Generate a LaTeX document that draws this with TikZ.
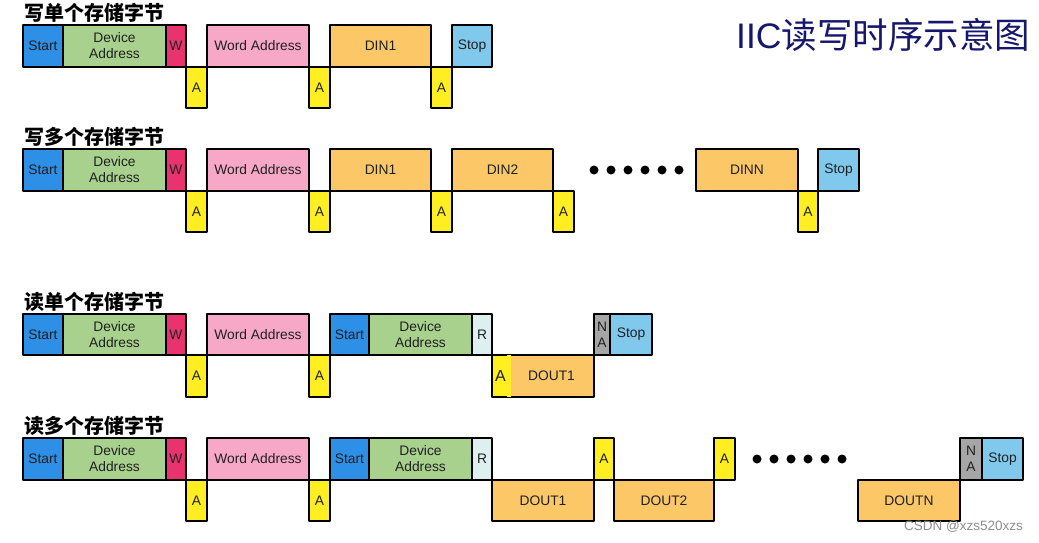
\documentclass[tikz,border=0pt]{standalone}
\usepackage{fontspec}
\setmainfont{Liberation Sans}
\newfontfamily\cjk{Noto Sans CJK SC}
\definecolor{cStart}{HTML}{2E8FE6}
\definecolor{cDev}{HTML}{A9D18E}
\definecolor{cW}{HTML}{E8336E}
\definecolor{cWA}{HTML}{F7A8C6}
\definecolor{cDin}{HTML}{FCC766}
\definecolor{cStop}{HTML}{80C8EC}
\definecolor{cA}{HTML}{FFEE22}
\definecolor{cR}{HTML}{DDEFEF}
\definecolor{cNA}{HTML}{A6A6A6}
\definecolor{cTitle}{HTML}{16166E}
\definecolor{cTxt}{HTML}{202020}
\newcommand\mybox[7]{\node[cell,fill=#6,minimum width={#3-#2},minimum height={#5-#4}] (#1) at ({(#2+#3)/2},{(#4+#5)/2}) {#7};}
\begin{document}
\begin{tikzpicture}[x=1pt,y=-1pt,
  cell/.style={draw=black,line width=2.8pt,line join=round,inner sep=0pt,outer sep=0pt,align=center,
    text=cTxt,font=\fontsize{13.8}{16}\selectfont},
  rowtitle/.style={anchor=west,inner sep=0pt,font=\cjk\bfseries\fontsize{20}{21}\selectfont},
  dot/.style={circle,fill=black,inner sep=0pt,minimum size=9pt}]
\useasboundingbox (0,0) rectangle (1039,543);
\node[anchor=west,inner sep=0pt,text=cTitle,font=\fontsize{35.5}{37}\selectfont] (main) at (736,35) {IIC{\cjk 读写时序示意图}};
% Row 1
\node[rowtitle] (t1) at (24,13) {写单个存储字节};
\mybox{r1s}{23}{63}{25}{67}{cStart}{Start}
\mybox{r1d}{63}{166}{25}{67}{cDev}{Device\\Address}
\mybox{r1w}{166}{186}{25}{67}{cW}{W}
\mybox{r1a1}{186}{207}{67}{108}{cA}{A}
\mybox{r1wa}{207}{309}{25}{67}{cWA}{Word Address}
\mybox{r1a2}{309}{330}{67}{108}{cA}{A}
\mybox{r1din}{330}{431}{25}{67}{cDin}{DIN1}
\mybox{r1a3}{431}{452}{67}{108}{cA}{A}
\mybox{r1p}{452}{492}{25}{67}{cStop}{Stop}
% Row 2
\node[rowtitle] (t2) at (24,137) {写多个存储字节};
\mybox{r2s}{23}{63}{149}{191}{cStart}{Start}
\mybox{r2d}{63}{166}{149}{191}{cDev}{Device\\Address}
\mybox{r2w}{166}{186}{149}{191}{cW}{W}
\mybox{r2a1}{186}{207}{191}{232}{cA}{A}
\mybox{r2wa}{207}{309}{149}{191}{cWA}{Word Address}
\mybox{r2a2}{309}{330}{191}{232}{cA}{A}
\mybox{r2din1}{330}{431}{149}{191}{cDin}{DIN1}
\mybox{r2a3}{431}{452}{191}{232}{cA}{A}
\mybox{r2din2}{452}{553}{149}{191}{cDin}{DIN2}
\mybox{r2a4}{553}{574}{191}{232}{cA}{A}
\foreach \i in {0,...,5} {\node[dot] (r2dot\i) at (594+17*\i,170) {};}
\mybox{r2dinn}{696}{798}{149}{191}{cDin}{DINN}
\mybox{r2a5}{798}{818}{191}{232}{cA}{A}
\mybox{r2p}{818}{859}{149}{191}{cStop}{Stop}
% Row 3
\node[rowtitle] (t3) at (24,302) {读单个存储字节};
\mybox{r3s}{23}{63}{314}{355}{cStart}{Start}
\mybox{r3d}{63}{166}{314}{355}{cDev}{Device\\Address}
\mybox{r3w}{166}{186}{314}{355}{cW}{W}
\mybox{r3a1}{186}{207}{355}{397}{cA}{A}
\mybox{r3wa}{207}{309}{314}{355}{cWA}{Word Address}
\mybox{r3a2}{309}{330}{355}{397}{cA}{A}
\mybox{r3s2}{330}{369}{314}{355}{cStart}{Start}
\mybox{r3d2}{369}{472}{314}{355}{cDev}{Device\\Address}
\mybox{r3r}{472}{492}{314}{355}{cR}{R}
\mybox{r3a3}{492}{509}{355}{397}{cA}{\fontsize{16}{17}\selectfont A}
\mybox{r3dout}{509}{594}{355}{397}{cDin}{DOUT1}
\draw[cA,line width=3.5pt] (r3a3.north east) -- (r3a3.south east);
\mybox{r3na}{594}{610}{314}{355}{cNA}{N\\A}
\mybox{r3p}{610}{652}{314}{355}{cStop}{Stop}
% Row 4
\node[rowtitle] (t4) at (24,426) {读多个存储字节};
\mybox{r4s}{23}{63}{438}{480}{cStart}{Start}
\mybox{r4d}{63}{166}{438}{480}{cDev}{Device\\Address}
\mybox{r4w}{166}{186}{438}{480}{cW}{W}
\mybox{r4a1}{186}{207}{480}{521}{cA}{A}
\mybox{r4wa}{207}{309}{438}{480}{cWA}{Word Address}
\mybox{r4a2}{309}{330}{480}{521}{cA}{A}
\mybox{r4s2}{330}{369}{438}{480}{cStart}{Start}
\mybox{r4d2}{369}{472}{438}{480}{cDev}{Device\\Address}
\mybox{r4r}{472}{492}{438}{480}{cR}{R}
\mybox{r4dout1}{492}{594}{480}{521}{cDin}{DOUT1}
\mybox{r4a3}{594}{614}{438}{480}{cA}{A}
\mybox{r4dout2}{614}{714}{480}{521}{cDin}{DOUT2}
\mybox{r4a4}{714}{735}{438}{480}{cA}{A}
\foreach \i in {0,...,5} {\node[dot] (r4dot\i) at (757+17*\i,459) {};}
\mybox{r4doutn}{858}{960}{480}{521}{cDin}{DOUTN}
\mybox{r4na}{960}{982}{438}{480}{cNA}{N\\A}
\mybox{r4p}{982}{1023}{438}{480}{cStop}{Stop}
\node[anchor=east,inner sep=0pt,text=black!45,font=\fontsize{13.5}{14}\selectfont] (csdn) at (1023,527) {CSDN @xzs520xzs};
\end{tikzpicture}
\end{document}
